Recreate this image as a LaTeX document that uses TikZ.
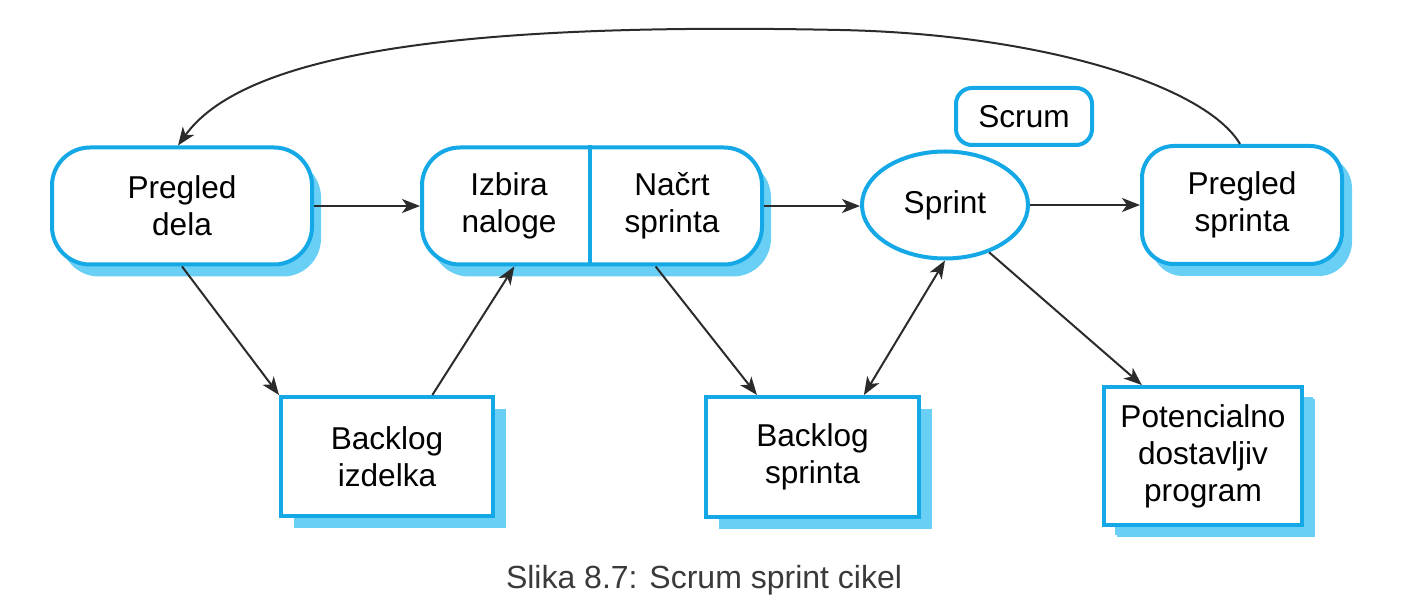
\documentclass[tikz,border=0pt]{standalone}
\usepackage{fontspec}
\setmainfont{Liberation Sans}
\usetikzlibrary{arrows.meta,shapes.geometric,shadows,calc}
\definecolor{bordblue}{HTML}{14A8E6}
\definecolor{shblue}{HTML}{6ACFF5}
\definecolor{linegrey}{HTML}{2B2B2B}
\definecolor{capgrey}{HTML}{3A3A3A}
\tikzset{
  txt/.style={font=\fontsize{15.8}{18.5}\selectfont, align=center, text=black},
  rbox/.style={txt, draw=bordblue, line width=2pt, fill=white, rounded corners=19pt,
    general shadow={fill=shblue, shadow xshift=4.5pt, shadow yshift=-6pt}},
  sbox/.style={txt, draw=bordblue, line width=2pt, fill=white,
    general shadow={fill=shblue, shadow xshift=6.5pt, shadow yshift=-6pt}},
  ebox/.style={txt, ellipse, draw=bordblue, line width=2pt, fill=white, inner sep=0pt},
  tagbox/.style={txt, draw=bordblue, line width=2pt, fill=white, rounded corners=8pt},
  conn/.style={draw=linegrey, line width=1pt, -{Stealth[length=9pt,width=7pt,inset=2.5pt]}},
  conn2/.style={draw=linegrey, line width=1pt, {Stealth[length=9pt,width=7pt,inset=2.5pt]}-{Stealth[length=9pt,width=7pt,inset=2.5pt]}}
}
\begin{document}
\begin{tikzpicture}[x=0.5pt,y=-0.5pt]
\useasboundingbox (0,0) rectangle (1409,614);
% nodes
\node[rbox, minimum width=130pt, minimum height=58.5pt] (pd) at (182,206) {Pregled\\dela};
\node[rbox, minimum width=170pt, minimum height=58.5pt] (sel) at (592,206) {};
\draw[draw=bordblue, line width=2pt] ($(sel.north west)!0.494!(sel.north east)$) coordinate (dtop) -- ($(sel.south west)!0.494!(sel.south east)$) coordinate (dbot);
\node[txt] (izb) at (509,206) {Izbira\\naloge};
\node[txt] (nac) at (672,206) {Načrt\\sprinta};
\node[ebox, minimum width=83pt, minimum height=53.5pt] (sp) at (945,205) {Sprint};
\node[tagbox, minimum width=68pt, minimum height=28.5pt] (scrum) at (1024,116.5) {Scrum};
\node[rbox, rounded corners=16pt, minimum width=100pt, minimum height=59pt,
  general shadow={fill=shblue, shadow xshift=5pt, shadow yshift=-5pt}] (ps) at (1242,205) {Pregled\\sprinta};
\node[sbox, minimum width=106pt, minimum height=59.5pt] (bi) at (387,456.5) {Backlog\\izdelka};
\node[sbox, minimum width=106.5pt, minimum height=60pt] (bs) at (812.5,457) {Backlog\\sprinta};
\node[sbox, minimum width=99pt, minimum height=69pt,
  general shadow={fill=shblue, shadow xshift=5.5pt, shadow yshift=-5pt}] (pot) at (1203,456) {Potencialno\\dostavljiv\\program};
% connectors
\draw[conn] (pd.east) -- (sel.west);
\draw[conn] (sel.east) -- (sel.east -| sp.west);
\draw[conn] (sp.east) -- (ps.west);
\draw[conn] (pd.south) -- (bi.north west);
\draw[conn] ($(bi.north west)!0.71!(bi.north east)$) -- ($(sel.south west)!0.274!(sel.south east)$);
\draw[conn] ($(sel.south west)!0.685!(sel.south east)$) -- ($(bs.north west)!0.244!(bs.north east)$);
\draw[conn2] (sp.south) -- ($(bs.north west)!0.737!(bs.north east)$);
\draw[conn] (sp.-47) -- ($(pot.north west)!0.197!(pot.north east)$);
\draw[conn] ($(ps.north)+(-2,0)$) .. controls (1205,85) and (1040,34) .. (840,30)
   .. controls (500,23) and (250,45) .. ($(pd.north)+(-4,0)$);
% caption
\node[font=\fontsize{16}{19}\selectfont, text=capgrey] (cap) at (704,580) {Slika 8.7: Scrum sprint cikel};
\end{tikzpicture}
\end{document}
